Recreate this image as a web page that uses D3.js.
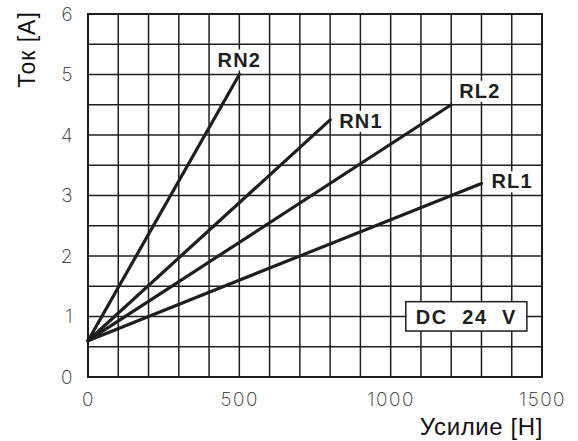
<!DOCTYPE html>
<html>
<head>
<meta charset="utf-8">
<script src="https://cdn.jsdelivr.net/npm/d3@7"></script>
<style>
  html, body { margin: 0; padding: 0; background: #fff; }
  svg { display: block; }
</style>
</head>
<body>
<svg id="chart" width="578" height="441"></svg>
<script>
// Force (N) vs current (A) characteristics of the solenoid variants, DC 24 V
const seriesNames = ["RN2", "RN1", "RL2", "RL1"];
const forceStart = [0, 0, 0, 0];
const currentStart = [0.6, 0.6, 0.6, 0.6];
const forceEnd = [500, 800, 1200, 1300];
const currentEnd = [5.0, 4.25, 4.5, 3.2];

const forceTicks = [0, 500, 1000, 1500];
const currentTicks = [0, 1, 2, 3, 4, 5, 6];
const forceGrid = d3.range(0, 1501, 100);
const currentGrid = d3.range(0, 6.01, 0.5);

const xLabel = "Усилие [Н]";
const yLabel = "Ток [А]";
const noteText = "DC  24  V";

// label placement relative to each line's end point (pixels)
const labelLayout = {
  RN2: { dx: 0, dy: -8, anchor: "middle" },
  RN1: { dx: 9, dy: 8, anchor: "start" },
  RL2: { dx: 8, dy: -7, anchor: "start" },
  RL1: { dx: 10, dy: 5, anchor: "start" }
};

const ink = "#1e1e1e";
const svg = d3.select("#chart");
const margin = { left: 88, top: 14, right: 36, bottom: 64 };
const W = 578 - margin.left - margin.right;
const H = 441 - margin.top - margin.bottom;

const x = d3.scaleLinear().domain([0, 1500]).range([0, W]);
const y = d3.scaleLinear().domain([0, 6]).range([H, 0]);

const g = svg.append("g").attr("transform", `translate(${margin.left},${margin.top})`);

// grid
g.append("g").selectAll("line").data(forceGrid).join("line")
  .attr("x1", d => x(d)).attr("x2", d => x(d))
  .attr("y1", 0).attr("y2", H)
  .attr("stroke", ink).attr("stroke-width", 1.5);
g.append("g").selectAll("line").data(currentGrid).join("line")
  .attr("x1", 0).attr("x2", W)
  .attr("y1", d => y(d)).attr("y2", d => y(d))
  .attr("stroke", ink).attr("stroke-width", 1.5);
g.append("rect").attr("x", 0).attr("y", 0).attr("width", W).attr("height", H)
  .attr("fill", "none").attr("stroke", ink).attr("stroke-width", 2);

// axes (labels only)
const tickFont = "Inter, Roboto, 'DejaVu Sans', sans-serif";
const xAxis = g.append("g").attr("transform", `translate(0,${H})`)
  .call(d3.axisBottom(x).tickValues(forceTicks).tickSize(0).tickPadding(16).tickFormat(d3.format("d")));
const yAxis = g.append("g")
  .call(d3.axisLeft(y).tickValues(currentTicks).tickSize(0).tickPadding(14).tickFormat(d3.format("d")));
[xAxis, yAxis].forEach(a => {
  a.select(".domain").remove();
  a.selectAll("text")
    .attr("font-family", tickFont).attr("font-weight", 200)
    .attr("font-size", 19).attr("letter-spacing", 1.5).attr("fill", "#2a2a2a");
});

// lines
const lineGen = d3.line().x(d => x(d[0])).y(d => y(d[1]));
const series = seriesNames.map((name, i) => ({
  name,
  pts: [[forceStart[i], currentStart[i]], [forceEnd[i], currentEnd[i]]]
}));
g.append("g").selectAll("path").data(series).join("path")
  .attr("d", d => lineGen(d.pts))
  .attr("fill", "none").attr("stroke", ink).attr("stroke-width", 3.2)
  .attr("stroke-linecap", "round");

// series labels on white backgrounds
const labels = g.append("g").selectAll("g").data(series).join("g");
labels.each(function (d) {
  const L = labelLayout[d.name];
  const end = d.pts[1];
  const grp = d3.select(this);
  const rect = grp.append("rect").attr("fill", "#fff");
  const t = grp.append("text")
    .attr("x", x(end[0]) + L.dx).attr("y", y(end[1]) + L.dy)
    .attr("text-anchor", L.anchor)
    .attr("font-family", "'Liberation Sans', Arial, sans-serif")
    .attr("font-weight", "bold").attr("font-size", 20).attr("letter-spacing", 1.2)
    .attr("fill", ink).text(d.name);
  const b = t.node().getBBox();
  rect.attr("x", b.x - 3).attr("y", b.y + 1).attr("width", b.width + 6).attr("height", b.height - 1);
});

// supply voltage note
const note = g.append("g");
const nx0 = x(1050), nx1 = x(1450), ny0 = y(1.245), ny1 = y(0.76);
note.append("rect").attr("x", nx0).attr("y", ny0).attr("width", nx1 - nx0).attr("height", ny1 - ny0)
  .attr("fill", "#fff").attr("stroke", ink).attr("stroke-width", 1.5);
note.append("text")
  .attr("x", (nx0 + nx1) / 2).attr("y", (ny0 + ny1) / 2).attr("dy", "0.36em")
  .attr("text-anchor", "middle").attr("xml:space", "preserve")
  .style("white-space", "pre")
  .attr("font-family", "'Liberation Sans', Arial, sans-serif")
  .attr("font-weight", "bold").attr("font-size", 20).attr("letter-spacing", 1.6)
  .attr("fill", ink).text(noteText);

// axis titles
svg.append("text")
  .attr("x", margin.left + W + 1).attr("y", 435)
  .attr("text-anchor", "end")
  .attr("font-family", "'Liberation Sans', Arial, sans-serif")
  .attr("font-size", 24).attr("letter-spacing", 0.6).attr("fill", "#111")
  .text(xLabel);
svg.append("text")
  .attr("transform", "translate(35,49.5) rotate(-90)")
  .attr("text-anchor", "middle")
  .attr("font-family", "'Liberation Sans', Arial, sans-serif")
  .attr("font-size", 23).attr("letter-spacing", 1).attr("fill", "#111")
  .text(yLabel);
</script>
</body>
</html>
